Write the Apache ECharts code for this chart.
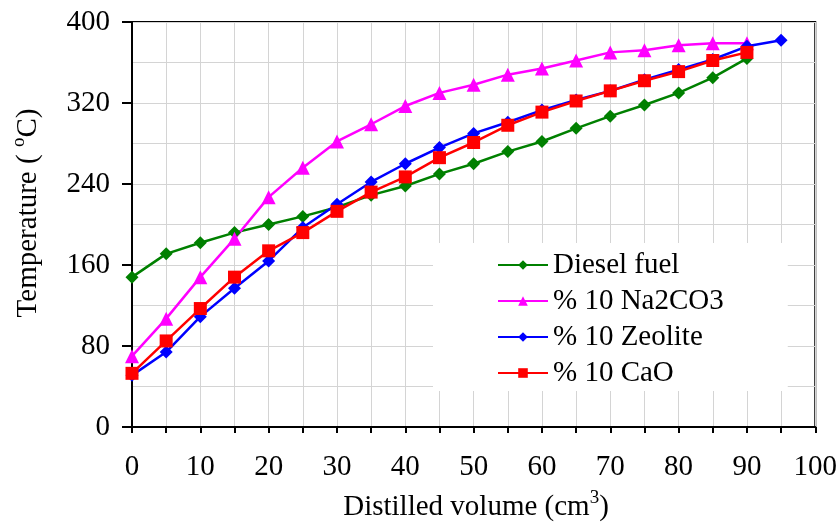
<!DOCTYPE html>
<html>
<head>
<meta charset="utf-8">
<script src="https://cdn.jsdelivr.net/npm/echarts@6/dist/echarts.min.js"></script>
<style>html,body{margin:0;padding:0;background:#fff}#c{width:840px;height:525px}</style>
</head>
<body>
<div id="c"></div>
<script>
var volumes = [0,5,10,15,20,25,30,35,40,45,50,55,60,65,70,75,80,85,90,95];
var diesel  = [148,171,182,192,200,208,217,229,238,250,260,272,282,295,307,318,330,345,364];
var na2co3  = [70,107,148,186,227,256,282,299,317,330,338,348,354,362,370,372,377,379,379];
var zeolite = [51,74,109,137,164,197,220,242,260,276,290,301,313,323,332,343,353,363,376,382];
var cao     = [53,85,117,148,174,192,213,232,247,266,281,298,311,322,332,342,351,362,370];
var seriesNames = ['Diesel fuel','% 10 Na2CO3','% 10 Zeolite','% 10 CaO'];
var xTicks = [0,10,20,30,40,50,60,70,80,90,100];
var yTicks = [0,80,160,240,320,400];

function pairs(vals){ return vals.map(function(v,i){ return [volumes[i], v]; }); }

var FONT = 'Liberation Serif';
var richTitle = {
  n: { fontFamily: FONT, fontSize: 29, lineHeight: 36, fill: '#000', color: '#000' },
  sup: { fontFamily: FONT, fontSize: 19, lineHeight: 19, verticalAlign: 'top', fill: '#000', color: '#000' }
};
var chart = echarts.init(document.getElementById('c'));
chart.setOption({
  animation: false,
  backgroundColor: '#fff',
  grid: { left: 132, right: 18, top: 22, bottom: 98, show: true, borderColor: '#000', borderWidth: 2, backgroundColor: 'transparent' },
  xAxis: {
    type: 'value', min: 0, max: 100, interval: 10,
    axisLine: { show: true, onZero: false, lineStyle: { color: '#000', width: 2 } },
    axisTick: { show: true, length: 6, lineStyle: { color: '#000', width: 2 } },
    minorTick: { show: true, splitNumber: 2, length: 6, lineStyle: { color: '#000', width: 2 } },
    splitLine: { show: true, lineStyle: { color: '#d4d4d4', width: 1 } },
    minorSplitLine: { show: true, lineStyle: { color: '#d4d4d4', width: 1 } },
    axisLabel: { color: '#000', fontFamily: FONT, fontSize: 29, margin: 26,
      formatter: function(v){ return xTicks.indexOf(v) >= 0 ? String(v) : ''; } }
  },
  yAxis: {
    type: 'value', min: 0, max: 400, interval: 80,
    axisLine: { show: true, lineStyle: { color: '#000', width: 2 } },
    axisTick: { show: true, length: 10, lineStyle: { color: '#000', width: 2 } },
    minorTick: { show: false, splitNumber: 2 },
    splitLine: { show: true, lineStyle: { color: '#d4d4d4', width: 1 } },
    minorSplitLine: { show: true, lineStyle: { color: '#d4d4d4', width: 1 } },
    axisLabel: { color: '#000', fontFamily: FONT, fontSize: 29, margin: 22,
      formatter: function(v){ return yTicks.indexOf(v) >= 0 ? String(v) : ''; } }
  },
  legend: {
    orient: 'vertical', left: 433, top: 243,
    padding: [4, 64, 0, 64],
    backgroundColor: '#fff',
    itemWidth: 50, itemHeight: 12, itemGap: 0,
    textStyle: { color: '#000', fontFamily: FONT, fontSize: 29, lineHeight: 36 },
    data: seriesNames
  },
  graphic: [
    { type: 'text', x: 28, y: 213, rotation: Math.PI/2,
      style: { text: '{n|Temperature ( }{sup|o}{n|C)}', align: 'center', verticalAlign: 'middle', rich: richTitle } },
    { type: 'text', x: 476, y: 507,
      style: { text: '{n|Distilled volume (cm}{sup|3}{n|)}', align: 'center', verticalAlign: 'middle', rich: richTitle } }
  ],
  series: [
    { name: seriesNames[0], type: 'line', data: pairs(diesel), symbol: 'diamond', symbolSize: 13,
      lineStyle: { color: '#008000', width: 2.5 }, itemStyle: { color: '#008000' } },
    { name: seriesNames[1], type: 'line', data: pairs(na2co3), symbol: 'triangle', symbolSize: 14,
      lineStyle: { color: '#ff00ff', width: 2.5 }, itemStyle: { color: '#ff00ff' } },
    { name: seriesNames[2], type: 'line', data: pairs(zeolite), symbol: 'diamond', symbolSize: 13,
      lineStyle: { color: '#0000ff', width: 2.5 }, itemStyle: { color: '#0000ff' } },
    { name: seriesNames[3], type: 'line', data: pairs(cao), symbol: 'rect', symbolSize: 13,
      lineStyle: { color: '#ff0000', width: 2.5 }, itemStyle: { color: '#ff0000' } }
  ]
});
</script>
</body>
</html>
